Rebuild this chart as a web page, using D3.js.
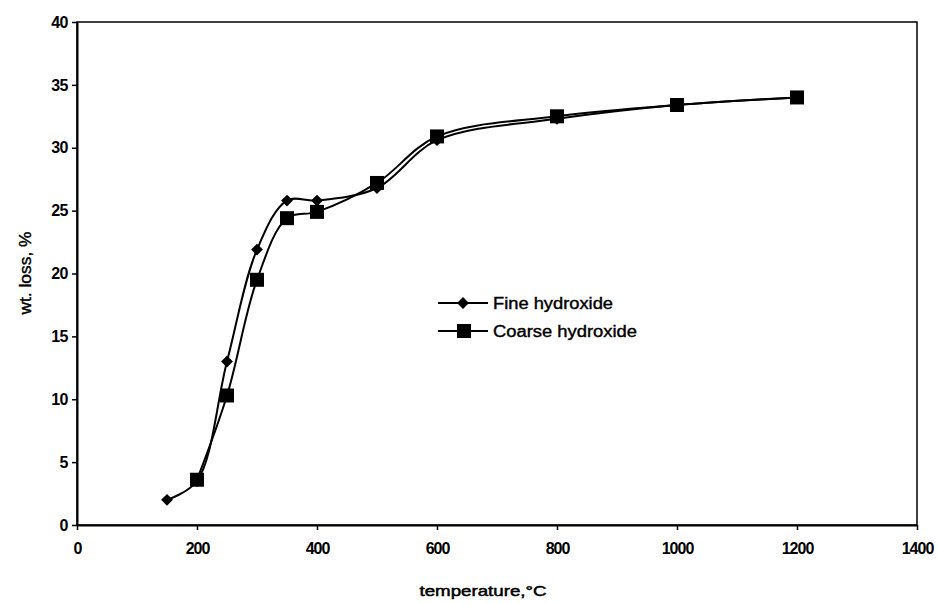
<!DOCTYPE html>
<html>
<head>
<meta charset="utf-8">
<script src="https://cdn.jsdelivr.net/npm/d3@7"></script>
<style>
  body { margin: 0; background: #fff; }
  text { font-family: "Liberation Sans", Arial, sans-serif; fill: #000; }
</style>
</head>
<body>
<script>
// data
var temps = [150, 200, 250, 300, 350, 400, 500, 600, 800, 1000, 1200];
var fineLoss = [2.0, 3.5, 13.0, 21.9, 25.8, 25.8, 26.8, 30.6, 32.3, 33.4, 34.0];
var coarseTemps = [200, 250, 300, 350, 400, 500, 600, 800, 1000, 1200];
var coarseLoss = [3.6, 10.3, 19.5, 24.4, 24.9, 27.2, 30.9, 32.5, 33.4, 34.0];
var xTicks = [0, 200, 400, 600, 800, 1000, 1200, 1400];
var yTicks = [0, 5, 10, 15, 20, 25, 30, 35, 40];

// margins
var margin = { top: 22, right: 21, bottom: 78, left: 77 },
  width = 938 - margin.left - margin.right,
  height = 603 - margin.top - margin.bottom;

var svg = d3.select("body").append("svg")
    .attr("width", 938)
    .attr("height", 603)
  .append("g")
    .attr("transform", "translate(" + margin.left + "," + margin.top + ")");

var xScale = d3.scaleLinear().domain([0, 1400]).range([0, width]);
var yScale = d3.scaleLinear().domain([0, 40]).range([height, 0]);

// plot area border
svg.append("rect")
  .attr("x", 0).attr("y", 0)
  .attr("width", width).attr("height", height)
  .attr("fill", "none")
  .attr("stroke", "#000")
  .attr("stroke-width", 1.5);

// axes
var xAxis = d3.axisBottom(xScale).tickValues(xTicks).tickFormat(d3.format("d")).tickSize(5).tickSizeOuter(0);
var yAxis = d3.axisLeft(yScale).tickValues(yTicks).tickSize(5).tickSizeOuter(0);

var gx = svg.append("g")
  .attr("transform", "translate(0," + height + ")")
  .call(xAxis);
gx.select(".domain").attr("stroke-width", 2);
gx.selectAll("line").attr("stroke-width", 1.5);
gx.selectAll("text")
  .attr("dy", "1.3em")
  .style("font-size", "16px")
  .style("font-weight", "bold")
  .style("letter-spacing", "-1px");

var gy = svg.append("g").call(yAxis);
gy.select(".domain").attr("stroke-width", 2);
gy.selectAll("line").attr("stroke-width", 1.5);
gy.selectAll("text")
  .attr("x", -9)
  .style("font-size", "16px")
  .style("font-weight", "bold")
  .style("letter-spacing", "-0.5px");

// axis titles (scan text is wide, so stretch it)
svg.append("text")
  .attr("x", 483 - margin.left)
  .attr("y", 596 - margin.top)
  .style("text-anchor", "middle")
  .style("font-size", "15px")
  .style("stroke", "#000").style("stroke-width", 0.5)
  .attr("textLength", 127)
  .attr("lengthAdjust", "spacingAndGlyphs")
  .text("temperature,\u00B0C");

svg.append("text")
  .attr("transform", "rotate(-90)")
  .attr("x", -(273 - margin.top))
  .attr("y", 31 - margin.left)
  .style("text-anchor", "middle")
  .style("font-size", "16px")
  .style("stroke", "#000").style("stroke-width", 0.4)
  .attr("textLength", 83)
  .attr("lengthAdjust", "spacingAndGlyphs")
  .text("wt. loss, %");

// series
var fine = temps.map(function(t, i) { return { x: t, y: fineLoss[i] }; });
var coarse = coarseTemps.map(function(t, i) { return { x: t, y: coarseLoss[i] }; });

var line = d3.line()
  .x(function(d) { return xScale(d.x); })
  .y(function(d) { return yScale(d.y); })
  .curve(d3.curveCatmullRom.alpha(0.5));

svg.append("path").datum(coarse)
  .attr("d", line).attr("fill", "none").attr("stroke", "#000").attr("stroke-width", 2);
svg.append("path").datum(fine)
  .attr("d", line).attr("fill", "none").attr("stroke", "#000").attr("stroke-width", 2);

// diamond = square turned 45 degrees
var diamond = d3.symbol().type(d3.symbolSquare).size(70);

svg.selectAll(".fine-pt")
  .data(fine)
  .enter()
  .append("path")
  .attr("class", "fine-pt")
  .attr("transform", function(d) { return "translate(" + xScale(d.x) + "," + yScale(d.y) + ") rotate(45)"; })
  .attr("d", diamond)
  .attr("fill", "#000");

svg.selectAll(".coarse-pt")
  .data(coarse)
  .enter()
  .append("rect")
  .attr("class", "coarse-pt")
  .attr("x", function(d) { return xScale(d.x) - 7; })
  .attr("y", function(d) { return yScale(d.y) - 7; })
  .attr("width", 14)
  .attr("height", 14)
  .attr("fill", "#000");

// legend
var legend = svg.append("g").attr("transform", "translate(" + (438 - margin.left) + "," + (303 - margin.top) + ")");
legend.append("line").attr("x1", 0).attr("x2", 50).attr("y1", 0).attr("y2", 0)
  .attr("stroke", "#000").attr("stroke-width", 2);
legend.append("path").attr("transform", "translate(25,0) rotate(45)").attr("d", diamond).attr("fill", "#000");
legend.append("text").attr("x", 55).attr("y", 6)
  .style("font-size", "16px")
  .style("stroke", "#000").style("stroke-width", 0.4)
  .attr("textLength", 120)
  .attr("lengthAdjust", "spacingAndGlyphs")
  .text("Fine hydroxide");

legend.append("line").attr("x1", 0).attr("x2", 50).attr("y1", 28).attr("y2", 28)
  .attr("stroke", "#000").attr("stroke-width", 2);
legend.append("rect").attr("x", 19).attr("y", 21).attr("width", 14).attr("height", 14).attr("fill", "#000");
legend.append("text").attr("x", 55).attr("y", 34)
  .style("font-size", "16px")
  .style("stroke", "#000").style("stroke-width", 0.4)
  .attr("textLength", 144)
  .attr("lengthAdjust", "spacingAndGlyphs")
  .text("Coarse hydroxide");
</script>
</body>
</html>
